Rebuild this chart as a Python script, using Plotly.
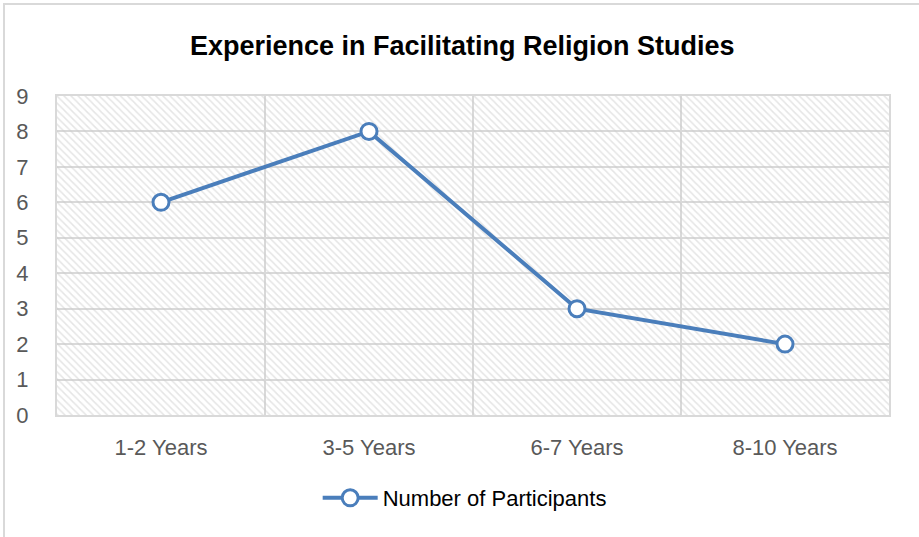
import plotly.graph_objects as go

categories = ["1-2 Years", "3-5 Years", "6-7 Years", "8-10 Years"]
participants = [6, 8, 3, 2]
y_ticks = list(range(0, 10))

W, H = 919, 537
ML, MR, MT, MB = 57, 30, 96, 122
PW = W - ML - MR
PH = H - MT - MB

def px_x(p):
    return (p - ML) / PW

def px_y(p):
    return (H - MB - p) / PH

BLUE = "#4a7ebb"
GRID = "#d9d9d9"
FONT = "Liberation Sans"

fig = go.Figure()

# hatched plot-area background on hidden base axes [0,1]
fig.add_trace(go.Scatter(
    x=[0, 1, 1, 0, 0], y=[0, 0, 1, 1, 0],
    xaxis="x", yaxis="y",
    mode="lines", line=dict(width=0),
    fill="toself", fillcolor="rgba(0,0,0,0)",
    fillpattern=dict(shape="\\", fgcolor="#cccccc", bgcolor="rgba(0,0,0,0)",
                     size=5, solidity=0.3),
    hoverinfo="skip", showlegend=False,
))

fig.add_trace(go.Scatter(
    x=categories, y=participants,
    xaxis="x2", yaxis="y2",
    name="Number of Participants",
    mode="lines+markers",
    line=dict(color=BLUE, width=4),
    marker=dict(symbol="circle", size=16, color="white",
                line=dict(color=BLUE, width=3)),
))

fig.update_layout(
    width=W, height=H,
    margin=dict(l=ML, r=MR, t=MT, b=MB),
    paper_bgcolor="white",
    plot_bgcolor="white",
    title=dict(text="<b>Experience in Facilitating Religion Studies</b>",
               x=0.503, xanchor="center", y=1 - 46 / H, yanchor="middle",
               font=dict(family=FONT, size=27, color="black")),
    xaxis=dict(range=[0, 1], visible=False, fixedrange=True),
    yaxis=dict(range=[0, 1], visible=False, fixedrange=True),
    xaxis2=dict(overlaying="x", type="category", range=[-0.5, 3.5],
                tickson="boundaries", showgrid=True, gridcolor=GRID, gridwidth=2,
                ticks="", showline=True, linecolor=GRID, linewidth=2, mirror=True,
                tickfont=dict(family=FONT, size=22, color="#595959"),
                ticklabelstandoff=12),
    yaxis2=dict(overlaying="y", range=[0, 9], tickvals=y_ticks, showgrid=True,
                gridcolor=GRID, gridwidth=2, ticks="", showline=True,
                linecolor=GRID, linewidth=2, mirror=True, zeroline=False,
                tickfont=dict(family=FONT, size=22, color="#595959"),
                ticklabelstandoff=22),
    showlegend=True,
    legend=dict(orientation="h", x=0.49, xanchor="center",
                y=px_y(498), yanchor="middle",
                font=dict(family=FONT, size=22, color="black"),
                itemwidth=55),
    shapes=[dict(type="rect", xref="paper", yref="paper",
                 x0=px_x(4), x1=px_x(940), y0=px_y(560), y1=px_y(4),
                 line=dict(color=GRID, width=2), layer="below")],
)

fig.write_html("out.html", config={"displayModeBar": False},
               post_script="document.body.style.margin='0';document.body.style.overflow='hidden';")
